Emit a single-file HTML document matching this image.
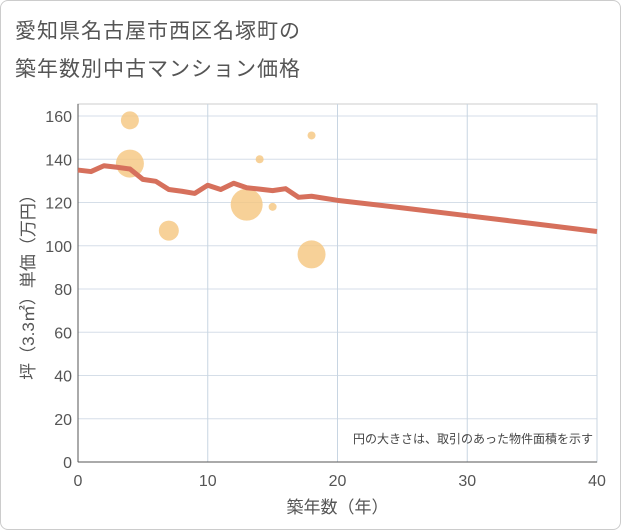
<!DOCTYPE html>
<html><head><meta charset="utf-8"><style>
body{margin:0;background:#fff;font-family:"Liberation Sans","Noto Sans CJK JP",sans-serif}
#wrap{position:relative;width:619px;height:528px;border:1px solid #ccc;border-radius:8px;background:#fff;overflow:hidden}
.t{position:absolute;left:14px;font-size:21px;color:#555;letter-spacing:1px}
</style></head><body>
<div id="wrap">
<div class="t" style="top:14px">愛知県名古屋市西区名塚町の</div>
<div class="t" style="top:52px">築年数別中古マンション価格</div>
<svg id="c" width="621" height="530" style="position:absolute;left:-1px;top:-1px"></svg>
</div>
<script>
const xTicks=[0,10,20,30,40];
const yTicks=[0,20,40,60,80,100,120,140,160];
const lineYears=[0,1,2,3,4,5,6,7,8,9,10,11,12,13,14,15,16,17,18,20,25,30,35,40];
const linePrices=[135,134.3,137,136.3,135.5,130.7,129.8,126,125.2,124.2,128,126,128.9,126.8,126.2,125.5,126.4,122.4,122.9,121,117.5,113.9,110.3,106.6];
const bubbleYears=[4,4,7,13,14,15,18,18];
const bubblePrices=[158,138,107,119,140,118,151,96];
const bubbleSizes=[9,14,10,16,4,4,4,14];
const NS="http://www.w3.org/2000/svg",svg=document.getElementById('c');
const X0=78,X1=597,Y0=462,Y1=116;
const sx=v=>X0+(v-0)/(40)*(X1-X0), sy=v=>Y0-v/160*(Y0-Y1);
function mk(t,a,p){const e=document.createElementNS(NS,t);for(const k in a)e.setAttribute(k,a[k]);(p||svg).appendChild(e);return e;}
const bg=mk('rect',{x:X0,y:104,width:X1-X0,height:Y0-104,fill:'#fff',stroke:'#ccc'});


yTicks.forEach(v=>{const l=mk('line',{x1:X0,x2:X1,y1:sy(v),y2:sy(v),stroke:'#d5dee8'});


const t=mk('text',{x:X0-6,y:sy(v)+6,'text-anchor':'end','font-size':16,fill:'#555'});t.textContent=v;

});
xTicks.forEach(v=>{const l=mk('line',{x1:sx(v),x2:sx(v),y1:104,y2:Y0,stroke:'#c8d5e2'});


const t=mk('text',{x:sx(v),y:Y0+24,'text-anchor':'middle','font-size':16,fill:'#555'});t.textContent=v;

});
mk('line',{x1:X0,x2:X1,y1:Y0,y2:Y0,stroke:'#555'});
mk('line',{x1:X0,x2:X0,y1:104,y2:Y0,stroke:'#555'});
bubbleYears.forEach((yr,i)=>{const c=mk('circle',{cx:sx(yr),cy:sy(bubblePrices[i]),r:bubbleSizes[i],fill:'#f5c67e','fill-opacity':0.8});

});
const p=mk('polyline',{points:lineYears.map((v,i)=>sx(v)+','+sy(linePrices[i])).join(' '),fill:'none',stroke:'#d6705c',Stroke:'', 'stroke-width':5,'stroke-linejoin':'round'});


const n=mk('text',{x:593,y:443,'text-anchor':'end','font-size':12,fill:'#444'});n.textContent='円の大きさは、取引のあった物件面積を示す';


const xt=mk('text',{x:sx(20),y:513,'text-anchor':'middle','font-size':17,fill:'#555'});xt.textContent='築年数（年）';


const yt=mk('text',{x:0,y:0,'text-anchor':'middle','font-size':17,fill:'#555',transform:'translate(34,'+((104+Y0)/2)+') rotate(-90)'});yt.textContent='坪（3.3㎡）単価（万円）';


</script>
</body></html>
